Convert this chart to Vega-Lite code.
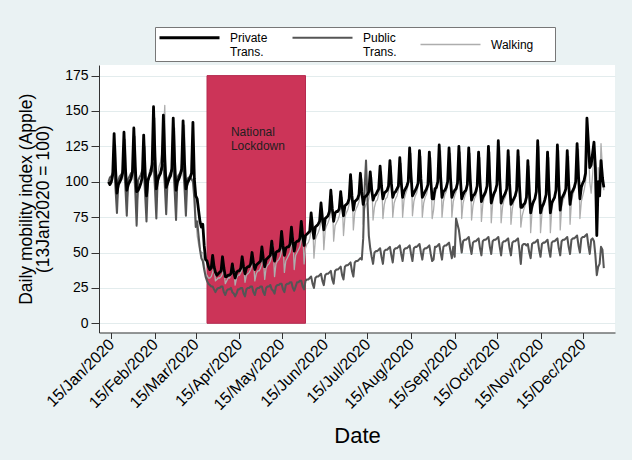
{
"width":516,"height":267.5,
"autosize":{"type":"none"},
"padding":{"left":99,"top":65,"right":17,"bottom":127.5},
"background":"#eaf2f3",
"config":{
 "font":"Liberation Sans",
 "view":{"fill":"white","stroke":null},
 "axis":{"labelFont":"Liberation Sans","titleFont":"Liberation Sans","labelColor":"#000","titleColor":"#000","domainColor":"#333","tickColor":"#333","titleFontWeight":"normal","gridColor":"#e3eced","labelFlush":false,"labelOverlap":false,"labelBound":false}
},
"encoding":{
 "x":{"field":"d","type":"temporal",
  "scale":{"type":"utc","domain":[{"year":2020,"month":1,"date":6,"hours":6,"utc":true},{"year":2021,"month":1,"date":6,"hours":22,"minutes":30,"utc":true}]},
  "axis":{"values":[{"year":2020,"month":1,"date":15,"utc":true},{"year":2020,"month":2,"date":15,"utc":true},{"year":2020,"month":3,"date":15,"utc":true},{"year":2020,"month":4,"date":15,"utc":true},{"year":2020,"month":5,"date":15,"utc":true},{"year":2020,"month":6,"date":15,"utc":true},{"year":2020,"month":7,"date":15,"utc":true},{"year":2020,"month":8,"date":15,"utc":true},{"year":2020,"month":9,"date":15,"utc":true},{"year":2020,"month":10,"date":15,"utc":true},{"year":2020,"month":11,"date":15,"utc":true},{"year":2020,"month":12,"date":15,"utc":true}],
   "format":"%d/%b/%Y","labelAngle":-45,"labelAlign":"right","labelBaseline":"middle","labelFontSize":16,"tickSize":6,"labelPadding":3,"grid":false,"title":"Date","titleFontSize":22,"titlePadding":13}},
 "y":{"field":"v","type":"quantitative",
  "scale":{"domain":[-6.5,182.5],"nice":false,"zero":false},
  "axis":{"values":[0,25,50,75,100,125,150,175],"title":["Daily mobility index (Apple)","(13Jan2020 = 100)"],"titleFontSize":17.5,"titleLineHeight":17,"titlePadding":12,"labelFontSize":14,"tickSize":8,"labelPadding":3,"grid":true}}
},
"layer":[
 {"data":{"values":[{"d":"2020-03-23","e":"2020-06-01","v":0,"v2":175}]},
  "mark":{"type":"rect","fill":"#cc3458","stroke":"#b52a4f","strokeWidth":1},
  "encoding":{"x2":{"field":"e"},"y2":{"field":"v2"}}},
 {"data":{"values":[{"d":"2020-04-09","v":139,"txt":"National\nLockdown"}]},
  "mark":{"type":"text","align":"left","baseline":"top","lineBreak":"\n","fontSize":12,"font":"Liberation Sans","color":"#1f1f1f","lineHeight":14},
  "encoding":{"text":{"field":"txt"}}},
 {"data":{"values":[
{"d":"2020-01-13","p":100,"t":100,"w":100},{"d":"2020-01-14","p":98,"t":103,"w":99},{"d":"2020-01-15","p":100,"t":104,"w":101},{"d":"2020-01-16","p":105,"t":106,"w":105},{"d":"2020-01-17","p":134,"t":110,"w":113},{"d":"2020-01-18","p":109,"t":95,"w":126},{"d":"2020-01-19","p":92,"t":78,"w":84},
{"d":"2020-01-20","p":98,"t":101,"w":96},{"d":"2020-01-21","p":100,"t":104,"w":101},{"d":"2020-01-22","p":102,"t":105,"w":103},{"d":"2020-01-23","p":106,"t":107,"w":108},{"d":"2020-01-24","p":135,"t":111,"w":117},{"d":"2020-01-25","p":110,"t":96,"w":130},{"d":"2020-01-26","p":94,"t":76,"w":85},
{"d":"2020-01-27","p":98,"t":102,"w":95},{"d":"2020-01-28","p":100,"t":104,"w":100},{"d":"2020-01-29","p":102,"t":106,"w":103},{"d":"2020-01-30","p":107,"t":107,"w":108},{"d":"2020-01-31","p":138,"t":112,"w":117},{"d":"2020-02-01","p":111,"t":94,"w":132},{"d":"2020-02-02","p":93,"t":69,"w":83},
{"d":"2020-02-03","p":94,"t":101,"w":91},{"d":"2020-02-04","p":96,"t":103,"w":96},{"d":"2020-02-05","p":99,"t":105,"w":98},{"d":"2020-02-06","p":103,"t":108,"w":103},{"d":"2020-02-07","p":133,"t":110,"w":112},{"d":"2020-02-08","p":107,"t":92,"w":125},{"d":"2020-02-09","p":90,"t":72,"w":80},
{"d":"2020-02-10","p":101,"t":100,"w":101},{"d":"2020-02-11","p":104,"t":104,"w":107},{"d":"2020-02-12","p":107,"t":105,"w":110},{"d":"2020-02-13","p":112,"t":108,"w":116},{"d":"2020-02-14","p":153,"t":113,"w":127},{"d":"2020-02-15","p":118,"t":96,"w":145},{"d":"2020-02-16","p":95,"t":74,"w":86},
{"d":"2020-02-17","p":101,"t":104,"w":105},{"d":"2020-02-18","p":104,"t":105,"w":111},{"d":"2020-02-19","p":106,"t":107,"w":114},{"d":"2020-02-20","p":111,"t":109,"w":121},{"d":"2020-02-21","p":147,"t":112,"w":134},{"d":"2020-02-22","p":116,"t":98,"w":154},{"d":"2020-02-23","p":96,"t":77,"w":88},
{"d":"2020-02-24","p":99,"t":102,"w":98},{"d":"2020-02-25","p":102,"t":104,"w":103},{"d":"2020-02-26","p":104,"t":106,"w":106},{"d":"2020-02-27","p":109,"t":108,"w":111},{"d":"2020-02-28","p":145,"t":112,"w":122},{"d":"2020-02-29","p":114,"t":94,"w":138},{"d":"2020-03-01","p":94,"t":73,"w":84},
{"d":"2020-03-02","p":100,"t":103,"w":99},{"d":"2020-03-03","p":102,"t":105,"w":104},{"d":"2020-03-04","p":105,"t":106,"w":107},{"d":"2020-03-05","p":109,"t":108,"w":113},{"d":"2020-03-06","p":143,"t":111,"w":124},{"d":"2020-03-07","p":114,"t":96,"w":140},{"d":"2020-03-08","p":95,"t":76,"w":85},
{"d":"2020-03-09","p":99,"t":102,"w":97},{"d":"2020-03-10","p":101,"t":103,"w":100},{"d":"2020-03-11","p":103,"t":103,"w":102},{"d":"2020-03-12","p":106,"t":102,"w":105},{"d":"2020-03-13","p":142,"t":100,"w":112},{"d":"2020-03-14","p":102,"t":88,"w":110},{"d":"2020-03-15","p":90,"t":68,"w":75},
{"d":"2020-03-16","p":88,"t":72,"w":62},{"d":"2020-03-17","p":80,"t":62,"w":56},{"d":"2020-03-18","p":72,"t":52,"w":52},{"d":"2020-03-19","p":68,"t":46,"w":50},{"d":"2020-03-20","p":70,"t":44,"w":50},{"d":"2020-03-21","p":55,"t":38,"w":42},{"d":"2020-03-22","p":45,"t":33,"w":35},
{"d":"2020-03-23","p":44,"t":30,"w":34},{"d":"2020-03-24","p":40,"t":28,"w":32},{"d":"2020-03-25","p":38,"t":27,"w":32},{"d":"2020-03-26","p":39,"t":26,"w":33},{"d":"2020-03-27","p":48,"t":26,"w":36},{"d":"2020-03-28","p":40,"t":24,"w":40},{"d":"2020-03-29","p":36,"t":22,"w":30},
{"d":"2020-03-30","p":34,"t":24,"w":31},{"d":"2020-03-31","p":35,"t":25,"w":32},{"d":"2020-04-01","p":36,"t":25,"w":32},{"d":"2020-04-02","p":37,"t":26,"w":33},{"d":"2020-04-03","p":47,"t":26,"w":35},{"d":"2020-04-04","p":39,"t":22,"w":38},{"d":"2020-04-05","p":33,"t":20,"w":28},
{"d":"2020-04-06","p":33,"t":23,"w":30},{"d":"2020-04-07","p":34,"t":24,"w":32},{"d":"2020-04-08","p":34,"t":24,"w":32},{"d":"2020-04-09","p":35,"t":25,"w":34},{"d":"2020-04-10","p":42,"t":22,"w":36},{"d":"2020-04-11","p":36,"t":21,"w":40},{"d":"2020-04-12","p":32,"t":19,"w":27},
{"d":"2020-04-13","p":36,"t":21,"w":32},{"d":"2020-04-14","p":37,"t":24,"w":34},{"d":"2020-04-15","p":37,"t":24,"w":34},{"d":"2020-04-16","p":39,"t":25,"w":36},{"d":"2020-04-17","p":47,"t":25,"w":38},{"d":"2020-04-18","p":40,"t":21,"w":42},{"d":"2020-04-19","p":35,"t":19,"w":29},
{"d":"2020-04-20","p":39,"t":24,"w":34},{"d":"2020-04-21","p":40,"t":25,"w":35},{"d":"2020-04-22","p":40,"t":25,"w":36},{"d":"2020-04-23","p":42,"t":26,"w":38},{"d":"2020-04-24","p":50,"t":26,"w":41},{"d":"2020-04-25","p":43,"t":22,"w":45},{"d":"2020-04-26","p":38,"t":20,"w":30},
{"d":"2020-04-27","p":41,"t":24,"w":35},{"d":"2020-04-28","p":42,"t":25,"w":37},{"d":"2020-04-29","p":43,"t":25,"w":37},{"d":"2020-04-30","p":44,"t":26,"w":39},{"d":"2020-05-01","p":54,"t":26,"w":42},{"d":"2020-05-02","p":46,"t":22,"w":47},{"d":"2020-05-03","p":40,"t":20,"w":31},
{"d":"2020-05-04","p":45,"t":25,"w":39},{"d":"2020-05-05","p":46,"t":26,"w":41},{"d":"2020-05-06","p":47,"t":26,"w":42},{"d":"2020-05-07","p":48,"t":27,"w":44},{"d":"2020-05-08","p":58,"t":24,"w":48},{"d":"2020-05-09","p":50,"t":23,"w":55},{"d":"2020-05-10","p":44,"t":21,"w":33},
{"d":"2020-05-11","p":50,"t":26,"w":42},{"d":"2020-05-12","p":51,"t":27,"w":44},{"d":"2020-05-13","p":51,"t":27,"w":45},{"d":"2020-05-14","p":53,"t":28,"w":47},{"d":"2020-05-15","p":65,"t":28,"w":51},{"d":"2020-05-16","p":55,"t":24,"w":58},{"d":"2020-05-17","p":48,"t":22,"w":36},
{"d":"2020-05-18","p":53,"t":27,"w":44},{"d":"2020-05-19","p":54,"t":28,"w":46},{"d":"2020-05-20","p":54,"t":28,"w":48},{"d":"2020-05-21","p":56,"t":29,"w":50},{"d":"2020-05-22","p":68,"t":29,"w":55},{"d":"2020-05-23","p":58,"t":25,"w":62},{"d":"2020-05-24","p":51,"t":23,"w":38},
{"d":"2020-05-25","p":57,"t":26,"w":48},{"d":"2020-05-26","p":58,"t":29,"w":50},{"d":"2020-05-27","p":58,"t":29,"w":52},{"d":"2020-05-28","p":60,"t":30,"w":54},{"d":"2020-05-29","p":72,"t":30,"w":59},{"d":"2020-05-30","p":62,"t":26,"w":66},{"d":"2020-05-31","p":55,"t":24,"w":42},
{"d":"2020-06-01","p":62,"t":30,"w":53},{"d":"2020-06-02","p":63,"t":31,"w":56},{"d":"2020-06-03","p":64,"t":31,"w":57},{"d":"2020-06-04","p":65,"t":32,"w":60},{"d":"2020-06-05","p":78,"t":33,"w":66},{"d":"2020-06-06","p":67,"t":28,"w":74},{"d":"2020-06-07","p":60,"t":25,"w":46},
{"d":"2020-06-08","p":68,"t":32,"w":59},{"d":"2020-06-09","p":69,"t":33,"w":62},{"d":"2020-06-10","p":70,"t":33,"w":64},{"d":"2020-06-11","p":72,"t":34,"w":67},{"d":"2020-06-12","p":85,"t":35,"w":72},{"d":"2020-06-13","p":74,"t":30,"w":81},{"d":"2020-06-14","p":66,"t":27,"w":52},
{"d":"2020-06-15","p":74,"t":34,"w":66},{"d":"2020-06-16","p":75,"t":35,"w":69},{"d":"2020-06-17","p":76,"t":35,"w":71},{"d":"2020-06-18","p":79,"t":36,"w":74},{"d":"2020-06-19","p":94,"t":37,"w":80},{"d":"2020-06-20","p":81,"t":31,"w":90},{"d":"2020-06-21","p":72,"t":28,"w":58},
{"d":"2020-06-22","p":78,"t":37,"w":69},{"d":"2020-06-23","p":79,"t":38,"w":71},{"d":"2020-06-24","p":79,"t":38,"w":73},{"d":"2020-06-25","p":81,"t":39,"w":76},{"d":"2020-06-26","p":93,"t":40,"w":81},{"d":"2020-06-27","p":83,"t":34,"w":89},{"d":"2020-06-28","p":76,"t":31,"w":62},
{"d":"2020-06-29","p":83,"t":40,"w":75},{"d":"2020-06-30","p":84,"t":41,"w":78},{"d":"2020-07-01","p":85,"t":41,"w":80},{"d":"2020-07-02","p":88,"t":42,"w":84},{"d":"2020-07-03","p":105,"t":43,"w":91},{"d":"2020-07-04","p":90,"t":37,"w":101},{"d":"2020-07-05","p":80,"t":33,"w":66},
{"d":"2020-07-06","p":86,"t":43,"w":78},{"d":"2020-07-07","p":87,"t":44,"w":81},{"d":"2020-07-08","p":88,"t":44,"w":83},{"d":"2020-07-09","p":91,"t":45,"w":86},{"d":"2020-07-10","p":106,"t":46,"w":92},{"d":"2020-07-11","p":93,"t":45,"w":102},{"d":"2020-07-12","p":84,"t":60,"w":70},
{"d":"2020-07-13","p":89,"t":95,"w":81},{"d":"2020-07-14","p":90,"t":115,"w":84},{"d":"2020-07-15","p":91,"t":88,"w":85},{"d":"2020-07-16","p":93,"t":62,"w":88},{"d":"2020-07-17","p":107,"t":53,"w":94},{"d":"2020-07-18","p":95,"t":47,"w":103},{"d":"2020-07-19","p":87,"t":42,"w":73},
{"d":"2020-07-20","p":90,"t":50,"w":82},{"d":"2020-07-21","p":91,"t":51,"w":86},{"d":"2020-07-22","p":93,"t":51,"w":87},{"d":"2020-07-23","p":95,"t":52,"w":91},{"d":"2020-07-24","p":111,"t":53,"w":97},{"d":"2020-07-25","p":97,"t":47,"w":107},{"d":"2020-07-26","p":88,"t":42,"w":74},
{"d":"2020-07-27","p":92,"t":51,"w":84},{"d":"2020-07-28","p":93,"t":52,"w":88},{"d":"2020-07-29","p":94,"t":52,"w":89},{"d":"2020-07-30","p":97,"t":53,"w":93},{"d":"2020-07-31","p":115,"t":54,"w":100},{"d":"2020-08-01","p":99,"t":48,"w":111},{"d":"2020-08-02","p":89,"t":43,"w":75},
{"d":"2020-08-03","p":92,"t":52,"w":85},{"d":"2020-08-04","p":93,"t":53,"w":88},{"d":"2020-08-05","p":95,"t":53,"w":90},{"d":"2020-08-06","p":97,"t":54,"w":94},{"d":"2020-08-07","p":117,"t":55,"w":102},{"d":"2020-08-08","p":100,"t":49,"w":113},{"d":"2020-08-09","p":89,"t":44,"w":75},
{"d":"2020-08-10","p":93,"t":52,"w":87},{"d":"2020-08-11","p":95,"t":53,"w":91},{"d":"2020-08-12","p":97,"t":53,"w":94},{"d":"2020-08-13","p":100,"t":54,"w":98},{"d":"2020-08-14","p":124,"t":55,"w":107},{"d":"2020-08-15","p":104,"t":49,"w":120},{"d":"2020-08-16","p":90,"t":44,"w":76},
{"d":"2020-08-17","p":92,"t":53,"w":86},{"d":"2020-08-18","p":94,"t":54,"w":90},{"d":"2020-08-19","p":96,"t":54,"w":92},{"d":"2020-08-20","p":99,"t":55,"w":97},{"d":"2020-08-21","p":122,"t":56,"w":105},{"d":"2020-08-22","p":102,"t":50,"w":118},{"d":"2020-08-23","p":89,"t":45,"w":75},
{"d":"2020-08-24","p":91,"t":52,"w":85},{"d":"2020-08-25","p":93,"t":53,"w":89},{"d":"2020-08-26","p":95,"t":53,"w":91},{"d":"2020-08-27","p":98,"t":54,"w":96},{"d":"2020-08-28","p":121,"t":55,"w":104},{"d":"2020-08-29","p":101,"t":49,"w":117},{"d":"2020-08-30","p":88,"t":44,"w":74},
{"d":"2020-08-31","p":88,"t":45,"w":80},{"d":"2020-09-01","p":95,"t":54,"w":91},{"d":"2020-09-02","p":96,"t":54,"w":94},{"d":"2020-09-03","p":100,"t":55,"w":99},{"d":"2020-09-04","p":126,"t":56,"w":108},{"d":"2020-09-05","p":104,"t":50,"w":122},{"d":"2020-09-06","p":89,"t":45,"w":75},
{"d":"2020-09-07","p":93,"t":54,"w":86},{"d":"2020-09-08","p":94,"t":55,"w":91},{"d":"2020-09-09","p":96,"t":55,"w":93},{"d":"2020-09-10","p":100,"t":56,"w":98},{"d":"2020-09-11","p":124,"t":57,"w":107},{"d":"2020-09-12","p":103,"t":51,"w":120},{"d":"2020-09-13","p":89,"t":46,"w":75},
{"d":"2020-09-14","p":92,"t":54,"w":86},{"d":"2020-09-15","p":94,"t":47,"w":90},{"d":"2020-09-16","p":95,"t":74,"w":93},{"d":"2020-09-17","p":99,"t":70,"w":98},{"d":"2020-09-18","p":125,"t":66,"w":107},{"d":"2020-09-19","p":103,"t":58,"w":121},{"d":"2020-09-20","p":88,"t":50,"w":74},
{"d":"2020-09-21","p":91,"t":58,"w":85},{"d":"2020-09-22","p":93,"t":59,"w":89},{"d":"2020-09-23","p":94,"t":59,"w":92},{"d":"2020-09-24","p":98,"t":60,"w":97},{"d":"2020-09-25","p":124,"t":61,"w":106},{"d":"2020-09-26","p":102,"t":54,"w":120},{"d":"2020-09-27","p":87,"t":49,"w":73},
{"d":"2020-09-28","p":90,"t":57,"w":83},{"d":"2020-09-29","p":91,"t":58,"w":88},{"d":"2020-09-30","p":93,"t":58,"w":90},{"d":"2020-10-01","p":97,"t":59,"w":95},{"d":"2020-10-02","p":121,"t":60,"w":104},{"d":"2020-10-03","p":100,"t":53,"w":117},{"d":"2020-10-04","p":86,"t":48,"w":72},
{"d":"2020-10-05","p":89,"t":58,"w":84},{"d":"2020-10-06","p":91,"t":59,"w":89},{"d":"2020-10-07","p":93,"t":59,"w":91},{"d":"2020-10-08","p":97,"t":60,"w":96},{"d":"2020-10-09","p":125,"t":61,"w":106},{"d":"2020-10-10","p":101,"t":54,"w":121},{"d":"2020-10-11","p":85,"t":49,"w":71},
{"d":"2020-10-12","p":89,"t":58,"w":85},{"d":"2020-10-13","p":92,"t":59,"w":90},{"d":"2020-10-14","p":94,"t":59,"w":93},{"d":"2020-10-15","p":98,"t":60,"w":98},{"d":"2020-10-16","p":129,"t":61,"w":109},{"d":"2020-10-17","p":103,"t":54,"w":125},{"d":"2020-10-18","p":85,"t":48,"w":71},
{"d":"2020-10-19","p":88,"t":57,"w":82},{"d":"2020-10-20","p":90,"t":58,"w":87},{"d":"2020-10-21","p":92,"t":58,"w":89},{"d":"2020-10-22","p":95,"t":59,"w":94},{"d":"2020-10-23","p":122,"t":60,"w":104},{"d":"2020-10-24","p":99,"t":53,"w":118},{"d":"2020-10-25","p":84,"t":48,"w":70},
{"d":"2020-10-26","p":86,"t":57,"w":81},{"d":"2020-10-27","p":88,"t":58,"w":86},{"d":"2020-10-28","p":90,"t":58,"w":88},{"d":"2020-10-29","p":94,"t":59,"w":93},{"d":"2020-10-30","p":122,"t":60,"w":103},{"d":"2020-10-31","p":98,"t":52,"w":118},{"d":"2020-11-01","p":82,"t":42,"w":68},
{"d":"2020-11-02","p":82,"t":55,"w":76},{"d":"2020-11-03","p":84,"t":56,"w":80},{"d":"2020-11-04","p":85,"t":56,"w":83},{"d":"2020-11-05","p":89,"t":55,"w":88},{"d":"2020-11-06","p":115,"t":56,"w":97},{"d":"2020-11-07","p":93,"t":50,"w":111},{"d":"2020-11-08","p":78,"t":46,"w":64},
{"d":"2020-11-09","p":83,"t":56,"w":79},{"d":"2020-11-10","p":86,"t":57,"w":85},{"d":"2020-11-11","p":88,"t":57,"w":88},{"d":"2020-11-12","p":93,"t":58,"w":95},{"d":"2020-11-13","p":129,"t":59,"w":107},{"d":"2020-11-14","p":98,"t":52,"w":125},{"d":"2020-11-15","p":78,"t":47,"w":64},
{"d":"2020-11-16","p":82,"t":56,"w":77},{"d":"2020-11-17","p":84,"t":57,"w":83},{"d":"2020-11-18","p":87,"t":57,"w":85},{"d":"2020-11-19","p":91,"t":58,"w":91},{"d":"2020-11-20","p":121,"t":59,"w":101},{"d":"2020-11-21","p":95,"t":52,"w":117},{"d":"2020-11-22","p":78,"t":47,"w":64},
{"d":"2020-11-23","p":85,"t":57,"w":80},{"d":"2020-11-24","p":87,"t":58,"w":86},{"d":"2020-11-25","p":89,"t":58,"w":88},{"d":"2020-11-26","p":94,"t":59,"w":94},{"d":"2020-11-27","p":126,"t":60,"w":105},{"d":"2020-11-28","p":98,"t":53,"w":122},{"d":"2020-11-29","p":80,"t":48,"w":66},
{"d":"2020-11-30","p":88,"t":58,"w":82},{"d":"2020-12-01","p":90,"t":59,"w":87},{"d":"2020-12-02","p":92,"t":59,"w":89},{"d":"2020-12-03","p":95,"t":60,"w":94},{"d":"2020-12-04","p":122,"t":61,"w":104},{"d":"2020-12-05","p":99,"t":54,"w":118},{"d":"2020-12-06","p":84,"t":49,"w":70},
{"d":"2020-12-07","p":92,"t":59,"w":86},{"d":"2020-12-08","p":94,"t":60,"w":91},{"d":"2020-12-09","p":96,"t":60,"w":94},{"d":"2020-12-10","p":100,"t":61,"w":99},{"d":"2020-12-11","p":127,"t":62,"w":108},{"d":"2020-12-12","p":104,"t":55,"w":123},{"d":"2020-12-13","p":88,"t":50,"w":74},
{"d":"2020-12-14","p":96,"t":60,"w":86},{"d":"2020-12-15","p":99,"t":61,"w":90},{"d":"2020-12-16","p":101,"t":61,"w":94},{"d":"2020-12-17","p":106,"t":62,"w":100},{"d":"2020-12-18","p":145,"t":63,"w":115},{"d":"2020-12-19","p":128,"t":55,"w":128},{"d":"2020-12-20","p":110,"t":49,"w":100},
{"d":"2020-12-21","p":112,"t":59,"w":92},{"d":"2020-12-22","p":120,"t":60,"w":105},{"d":"2020-12-23","p":128,"t":58,"w":118},{"d":"2020-12-24","p":110,"t":48,"w":115},{"d":"2020-12-25","p":62,"t":34,"w":75},{"d":"2020-12-26","p":100,"t":40,"w":110},{"d":"2020-12-27","p":90,"t":42,"w":95},
{"d":"2020-12-28","p":115,"t":54,"w":127},{"d":"2020-12-29","p":103,"t":52,"w":110},{"d":"2020-12-30","p":96,"t":39,"w":94}
 ]},
  "transform":[{"fold":["w","t","p"],"as":["k","v"]}],
  "mark":{"type":"line","strokeJoin":"round"},
  "encoding":{
   "color":{"field":"k","type":"nominal","scale":{"domain":["p","t","w"],"range":["#000000","#555555","#adadad"]},
    "legend":{"orient":"none","legendX":56,"legendY":-38,"direction":"horizontal","columns":3,"title":null,"symbolType":"M-1,0H9","symbolSize":144,"labelOffset":57,"columnPadding":20,"padding":3,"strokeColor":"#777777","fillColor":"white","labelFontSize":12,"labelFont":"Liberation Sans","labelColor":"#000000","labelExpr":"datum.value == 'p' ? ['Private','Trans.'] : datum.value == 't' ? ['Public','Trans.'] : 'Walking\u2800\u2800'"}},
   "strokeWidth":{"field":"k","type":"nominal","scale":{"domain":["p","t","w"],"range":[2.8,1.3,1]},
    "legend":{"orient":"none","legendX":56,"legendY":-38,"direction":"horizontal","columns":3,"title":null,"symbolType":"M-1,0H9","symbolSize":144,"labelOffset":57,"columnPadding":20,"padding":3,"strokeColor":"#777777","fillColor":"white","labelFontSize":12,"labelFont":"Liberation Sans","labelColor":"#000000","labelExpr":"datum.value == 'p' ? ['Private','Trans.'] : datum.value == 't' ? ['Public','Trans.'] : 'Walking\u2800\u2800'"}}
  }}
]
}
